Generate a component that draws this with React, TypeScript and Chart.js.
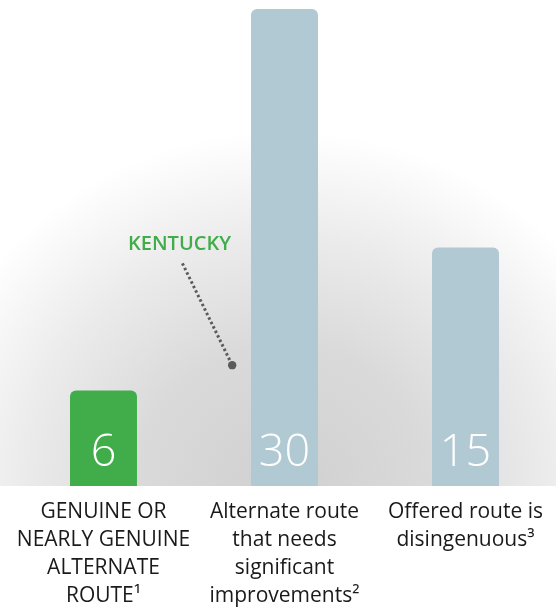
import React, { useEffect, useRef } from "react";
import { Chart, registerables } from "chart.js";

Chart.register(...registerables);

const categories: string[][] = [
  ["GENUINE OR", "NEARLY GENUINE", "ALTERNATE", "ROUTE¹"],
  ["Alternate route", "that needs", "significant", "improvements²"],
  ["Offered route is", "disingenuous³"],
];
const values: number[] = [6, 30, 15];
const barColors: string[] = ["#41ad4a", "#b1c9d3"];
const yMax = 30;

// annotation in data units (category index, value)
const annotationLabel = "KENTUCKY";
const annotationText = { x: 0.42, y: 15.2 };
const annotationLineStart = { x: 0.436, y: 14.0 };
const annotationLineEnd = { x: 0.711, y: 7.6 };

const FONT = "'Open Sans', 'Noto Sans', sans-serif";

export default function App() {
  const ref = useRef<HTMLCanvasElement | null>(null);

  useEffect(() => {
    const canvas = ref.current;
    if (!canvas) return;

    const bgPlugin = {
      id: "bg",
      beforeDraw(chart: any) {
        const { ctx, chartArea, width } = chart;
        const xs = chart.scales.x;
        const cx = xs.getPixelForValue(1);
        const cy = chartArea.bottom;
        ctx.save();
        ctx.fillStyle = "#ffffff";
        ctx.fillRect(0, 0, width, chart.height);
        ctx.beginPath();
        ctx.rect(0, 0, width, chartArea.bottom);
        ctx.clip();
        ctx.translate(cx, cy);
        ctx.scale(1.05, 1);
        const g = ctx.createRadialGradient(0, 0, 0, 0, 0, 355);
        g.addColorStop(0, "#d0d0d0");
        g.addColorStop(0.4, "#dadada");
        g.addColorStop(0.7, "#ebebeb");
        g.addColorStop(0.88, "#f7f7f7");
        g.addColorStop(1, "#ffffff");
        ctx.fillStyle = g;
        ctx.fillRect(-cx / 1.05 - 10, -cy - 10, width / 1.05 + 40, cy + 20);
        ctx.restore();
      },
    };

    const labelPlugin = {
      id: "vals",
      afterDatasetsDraw(chart: any) {
        const { ctx } = chart;
        const xs = chart.scales.x;
        const ys = chart.scales.y;
        const meta = chart.getDatasetMeta(0);
        ctx.save();
        ctx.fillStyle = "#ffffff";
        ctx.font = `300 45px ${FONT}`;
        ctx.textAlign = "center";
        ctx.textBaseline = "alphabetic";
        meta.data.forEach((bar: any, i: number) => {
          ctx.fillText(String(values[i]), bar.x, bar.base - 20);
        });

        const tx = xs.getPixelForValue(annotationText.x);
        const ty = ys.getPixelForValue(annotationText.y);
        ctx.fillStyle = "#41ad4a";
        ctx.font = `600 20px ${FONT}`;
        ctx.textBaseline = "middle";
        ctx.fillText(annotationLabel, tx, ty);

        const x1 = xs.getPixelForValue(annotationLineStart.x);
        const y1 = ys.getPixelForValue(annotationLineStart.y);
        const x2 = xs.getPixelForValue(annotationLineEnd.x);
        const y2 = ys.getPixelForValue(annotationLineEnd.y);
        ctx.strokeStyle = "#5b5b5b";
        ctx.lineWidth = 3;
        ctx.setLineDash([2.5, 2.5]);
        ctx.beginPath();
        ctx.moveTo(x1, y1);
        ctx.lineTo(x2, y2);
        ctx.stroke();
        ctx.setLineDash([]);
        ctx.fillStyle = "#5b5b5b";
        ctx.beginPath();
        ctx.arc(x2, y2, 4.2, 0, Math.PI * 2);
        ctx.fill();
        ctx.restore();
      },
    };

    const chart = new Chart(canvas, {
      type: "bar",
      data: {
        labels: categories,
        datasets: [
          {
            data: values,
            backgroundColor: values.map((_, i) => (i === 0 ? barColors[0] : barColors[1])),
            borderRadius: 6,
            borderSkipped: "bottom",
            barPercentage: 0.37,
            categoryPercentage: 1,
          },
        ],
      },
      options: {
        responsive: false,
        animation: false,
        events: [],
        layout: { padding: { left: 13, right: 0, top: 9, bottom: 0 } },
        plugins: {
          legend: { display: false },
          tooltip: { enabled: false },
          title: { display: false },
        },
        scales: {
          x: {
            grid: { display: false, drawTicks: false },
            border: { display: false },
            ticks: {
              color: "#1a1a1a",
              font: { family: FONT, size: 21, lineHeight: "28px" },
              padding: 12,
              maxRotation: 0,
              autoSkip: false,
            },
            afterFit: (scale: any) => {
              scale.height = 125;
            },
          },
          y: {
            display: false,
            min: 0,
            max: yMax,
          },
        },
      },
      plugins: [bgPlugin, labelPlugin],
    });

    return () => chart.destroy();
  }, []);

  return (
    <div style={{ position: "absolute", left: 0, top: 0, width: 556, height: 611 }}>
      <canvas ref={ref} width={556} height={611} style={{ display: "block" }} />
    </div>
  );
}
